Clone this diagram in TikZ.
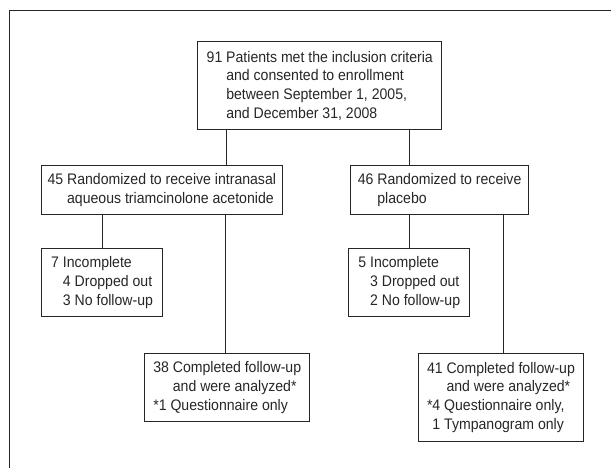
\documentclass[tikz,border=0pt]{standalone}
\usepackage{fontspec}
\setmainfont{Liberation Sans}[FakeStretch=0.92]

\tikzset{
	flowbox/.style={draw=black!85, line width=0.9pt, anchor=north west, align=left,
		inner xsep=6pt, inner ysep=0pt, font=\fontsize{15.3}{18.7}\selectfont, text=black!85},
	flowline/.style={draw=black!85, line width=0.9pt}
}

\begin{document}
\begin{tikzpicture}[x=1pt, y=-1pt]
	\useasboundingbox (0, 0) rectangle (611, 468);
	% open frame round the chart
	\draw[flowline] (9, 468) -- (9, 10) -- (611, 10);
	% enrollment
	\node[flowbox, minimum width=244pt, minimum height=88pt] (enrol) at (197.3, 41.3)
		{91 Patients met the inclusion criteria\\\hphantom{91\ }and consented to enrollment\\\hphantom{91\ }between September 1, 2005,\\\hphantom{91\ }and December 31, 2008};
	% randomized arms
	\node[flowbox, minimum width=240.7pt, minimum height=49.3pt] (randA) at (41, 165)
		{45 Randomized to receive intranasal\\\hphantom{45\ }aqueous triamcinolone acetonide};
	\node[flowbox, minimum width=178.3pt, minimum height=49.3pt] (randP) at (350, 165)
		{46 Randomized to receive\hspace{11pt}\\\hphantom{46\ }placebo};
	% incomplete
	\node[flowbox, minimum width=121.3pt, minimum height=67.4pt] (incA) at (41, 248.3)
		{7 Incomplete\\\hphantom{7\ }4 Dropped out\\\hphantom{7\ }3 No follow-up\hspace{3pt}};
	\node[flowbox, minimum width=121pt, minimum height=67.4pt] (incP) at (348.3, 248.3)
		{5 Incomplete\\\hphantom{5\ }3 Dropped out\\\hphantom{5\ }2 No follow-up\hspace{3pt}};
	% completed
	\node[flowbox, minimum width=165pt, minimum height=67.4pt] (compA) at (144.3, 353.3)
		{38 Completed follow-up\\\hphantom{38\ }and were analyzed*\\{}*1 Questionnaire only};
	\node[flowbox, minimum width=165.6pt, minimum height=88.3pt] (compP) at (417.7, 352.7)
		{41 Completed follow-up\\\hphantom{41\ }and were analyzed*\\{}*4 Questionnaire only,\\\hphantom{*}1 Tympanogram only};
	% connectors
	\draw[flowline] ([xshift=28.7pt]enrol.south west) -- ([xshift=28.7pt]enrol.south west |- randA.north);
	\draw[flowline] (incP.north |- enrol.south) -- (incP.north |- randP.north);
	\draw[flowline] (incA.north |- randA.south) -- (incA.north);
	\draw[flowline] ([xshift=-2pt]compA.north |- randA.south) -- ([xshift=-2pt]compA.north);
	\draw[flowline] (incP.north |- randP.south) -- (incP.north);
	\draw[flowline] ([xshift=2.7pt]compP.north |- randP.south) -- ([xshift=2.7pt]compP.north);
\end{tikzpicture}
\end{document}
